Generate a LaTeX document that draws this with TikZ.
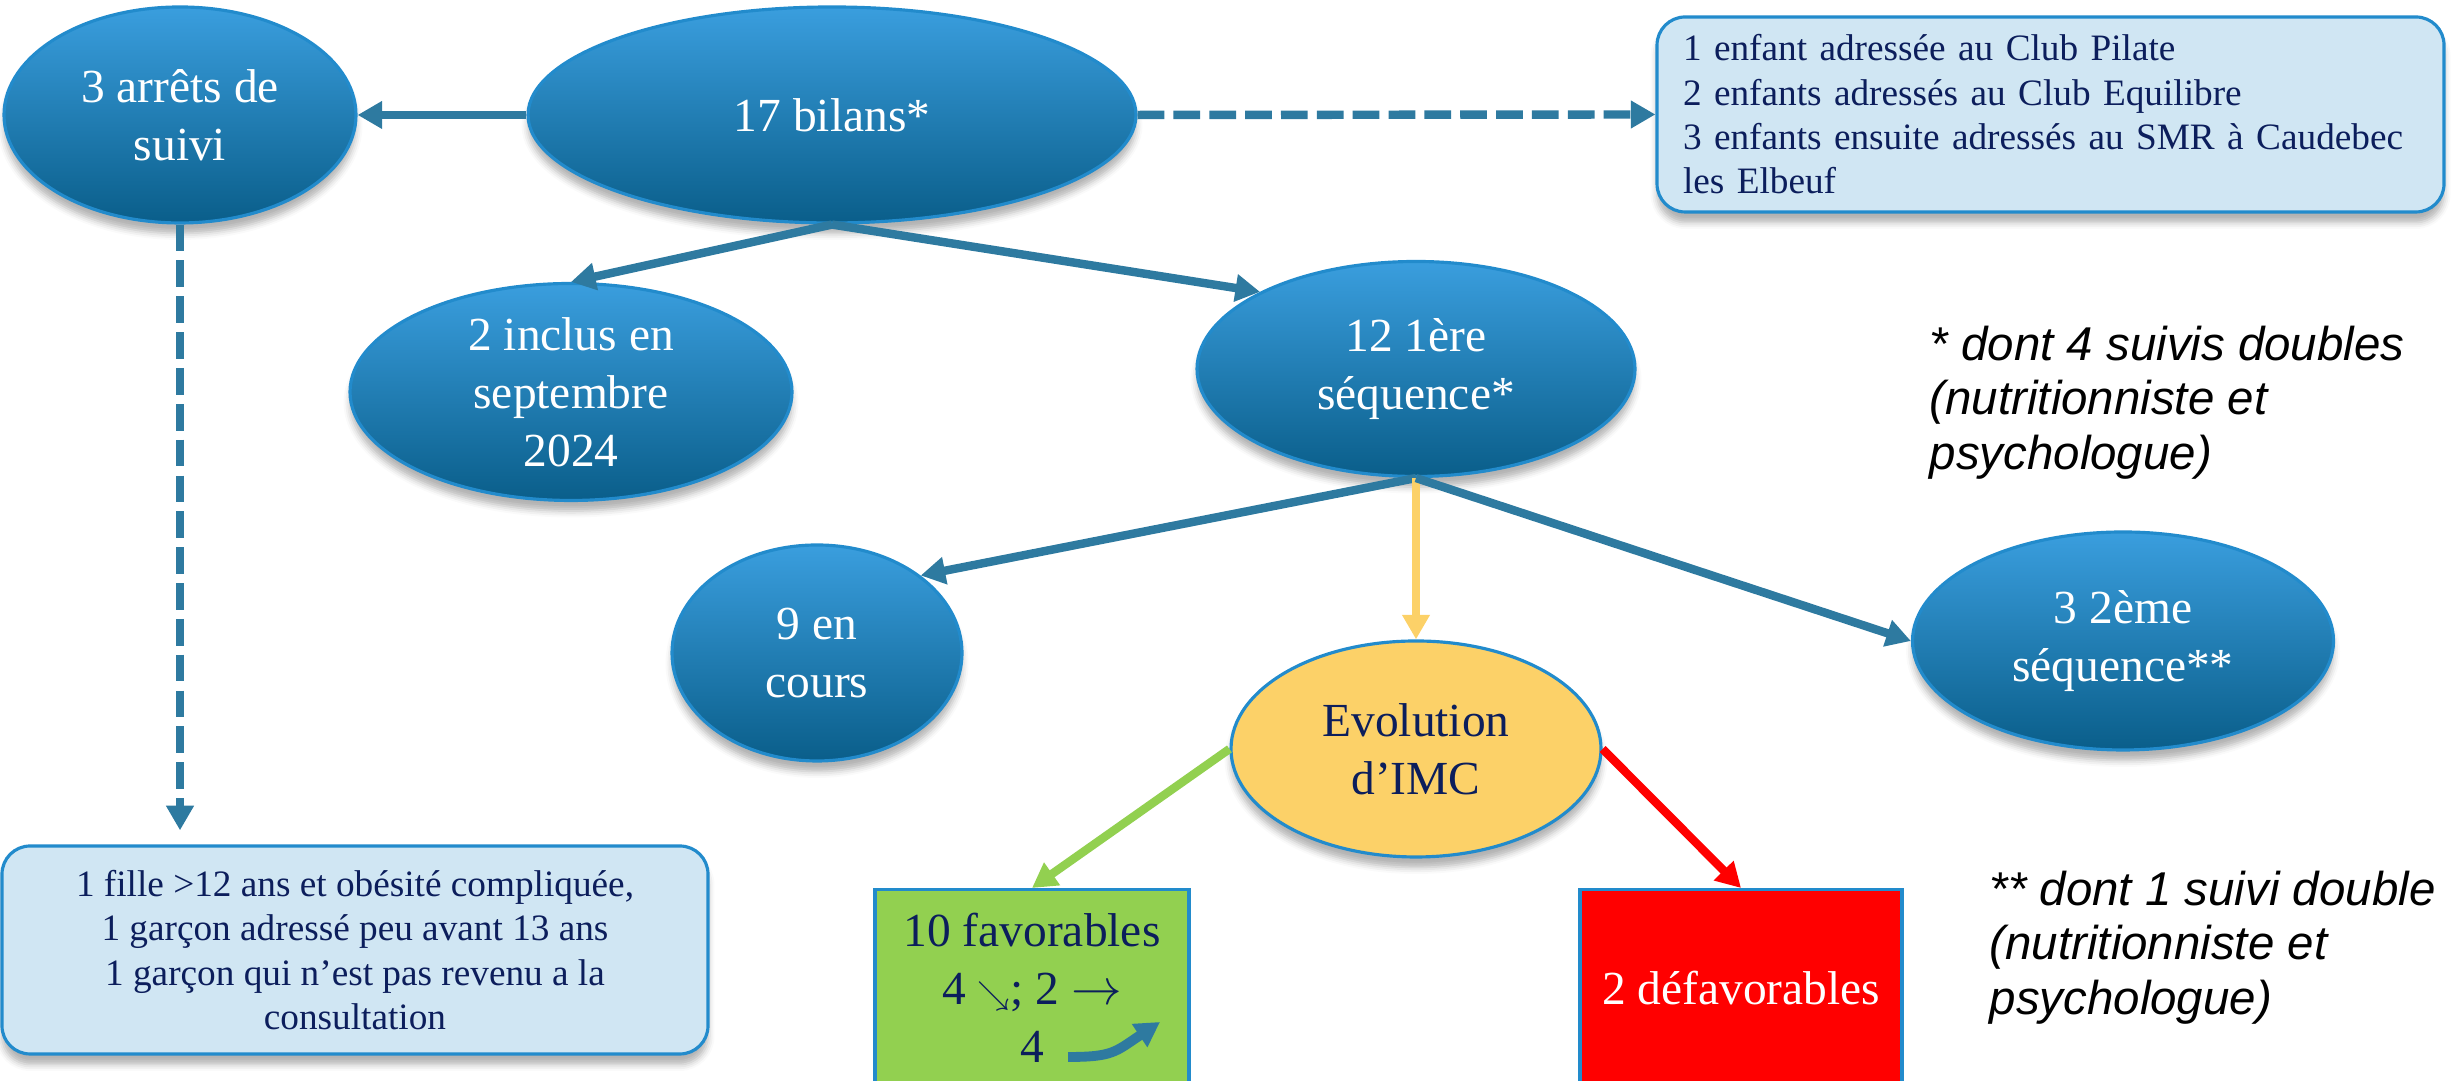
\documentclass[tikz,border=0pt]{standalone}
\usepackage{fontspec}
\setmainfont{Liberation Serif}
\newfontfamily\notefont{Liberation Sans}
\usepackage{xcolor}
\usepackage{tikz}
\usetikzlibrary{positioning,arrows.meta,shapes.geometric,shadows.blur}

\definecolor{bulleHaut}{RGB}{58,158,222}
\definecolor{bulleBas}{RGB}{10,94,138}
\definecolor{bord}{RGB}{34,139,204}
\definecolor{fleche}{RGB}{46,122,160}
\definecolor{cadreFond}{RGB}{208,230,243}
\definecolor{encre}{RGB}{12,30,92}
\definecolor{jaune}{RGB}{252,209,104}
\definecolor{vert}{RGB}{146,208,80}

\begin{document}
\begin{tikzpicture}[
        bulle/.style={ellipse, draw=bord, line width=0.9pt,
                      top color=bulleHaut, bottom color=bulleBas,
                      text=white, align=center, inner xsep=0pt, inner ysep=-6pt,
                      font=\fontsize{13.5}{16.5}\selectfont,
                      blur shadow={shadow xshift=0pt, shadow yshift=-3pt, shadow opacity=30}},
        cadre/.style={draw=bord, line width=0.9pt, rounded corners=8pt,
                      fill=cadreFond, text=encre,
                      font=\fontsize{10.6}{12.6}\selectfont,
                      blur shadow={shadow xshift=0pt, shadow yshift=-3pt, shadow opacity=30}},
        carre/.style={draw=bord, line width=0.9pt, anchor=north, align=center,
                      font=\fontsize{13.5}{16.5}\selectfont},
        note/.style={anchor=north west, inner sep=0pt, align=left,
                     font=\notefont\itshape\fontsize{13.5}{15.6}\selectfont},
        arr/.style={draw=fleche, line width=2.4pt, -{Triangle[length=7pt,width=7.5pt]}},
        arrd/.style={arr, dash pattern=on 7.6pt off 2.6pt}
    ]
        \useasboundingbox (0,0) rectangle (24.63,10.81);
        \clip (0,0) rectangle (24.63,10.81);

        % top row
        \node[bulle, minimum width=3.52cm, minimum height=2.16cm] (arret) at (1.80,9.66) {3 arrêts de\\suivi};
        \node[bulle, minimum width=6.08cm, minimum height=2.16cm] (bilans) at (8.32,9.66) {17 bilans*};
        \node[cadre, minimum width=7.87cm, minimum height=1.95cm, text width=7.35cm, align=left] (orient) at (20.505,9.665)
            {1 enfant adressée au Club Pilate\\2 enfants adressés au Club Equilibre\\3 enfants ensuite adressés au SMR à Caudebec\\les Elbeuf};

        % second and third rows
        \node[bulle, minimum width=4.42cm, minimum height=2.17cm] (inclus) at (5.71,6.89) {2 inclus en\\septembre\\2024};
        \node[bulle, minimum width=4.38cm, minimum height=2.15cm] (seq1) at (14.16,7.12) {12 1ère\\séquence*};
        \node[bulle, minimum width=2.90cm, minimum height=2.16cm] (encours) at (8.17,4.28) {9 en\\cours};
        \node[bulle, minimum width=4.21cm, minimum height=2.18cm] (seq2) at (21.23,4.40) {3 2ème\\séquence**};
        \node[bulle, top color=jaune, bottom color=jaune, text=encre,
              minimum width=3.70cm, minimum height=2.16cm] (imc) at (14.16,3.32) {Evolution\\d’IMC};

        % bottom row
        \node[cadre, align=center, minimum width=7.06cm, minimum height=2.08cm] (arretcadre) at (3.55,1.31)
            {1 fille >12 ans et obésité compliquée,\\1 garçon adressé peu avant 13 ans\\1 garçon qui n’est pas revenu a la\\consultation};
        \node[carre, fill=vert, text=encre, minimum width=3.14cm, minimum height=1.96cm] (fav) at (10.32,1.93)
            {10 favorables\\4 {\small$\searrow$}; 2 $\rightarrow$\\4};
        \node[carre, fill=red, text=white, minimum width=3.22cm, minimum height=1.96cm] (defav) at (17.41,1.93)
            {2 défavorables};

        \node[note] (note1) at (19.29,7.56) {* dont 4 suivis doubles\\(nutritionniste et\\psychologue)};
        \node[note] (note2) at (19.89,2.11) {** dont 1 suivi double\\(nutritionniste et\\psychologue)};

        \draw[arr] (bilans) -- (arret);
        \draw[arrd] (bilans.east) -- (orient.west);
        \draw[arr] (bilans.south) -- (inclus.north);
        \draw[arr] (bilans.south) -- (seq1.north west);
        \draw[arr] (seq1.south) -- (encours.north east);
        \draw[arr, draw=jaune] (seq1.south) -- (imc.north);
        \draw[arr] (seq1.south) -- (seq2.west);
        \draw[arr, draw=vert] (imc.west) -- (fav.north);
        \draw[arr, draw=red] (imc.east) -- (defav.north);
        \draw[arrd, shorten >=4pt] (arret.south) -- (arret.south |- arretcadre.north);

        % curly arrow after the last 4
        \coordinate (vrille1) at (10.68,0.24);
        \coordinate (vrille2) at (11.60,0.59);
        \draw[arr, line width=2.8pt] (vrille1) .. controls +(0.45,0) and +(-0.45,-0.3) .. (vrille2);
    \end{tikzpicture}
\end{document}
